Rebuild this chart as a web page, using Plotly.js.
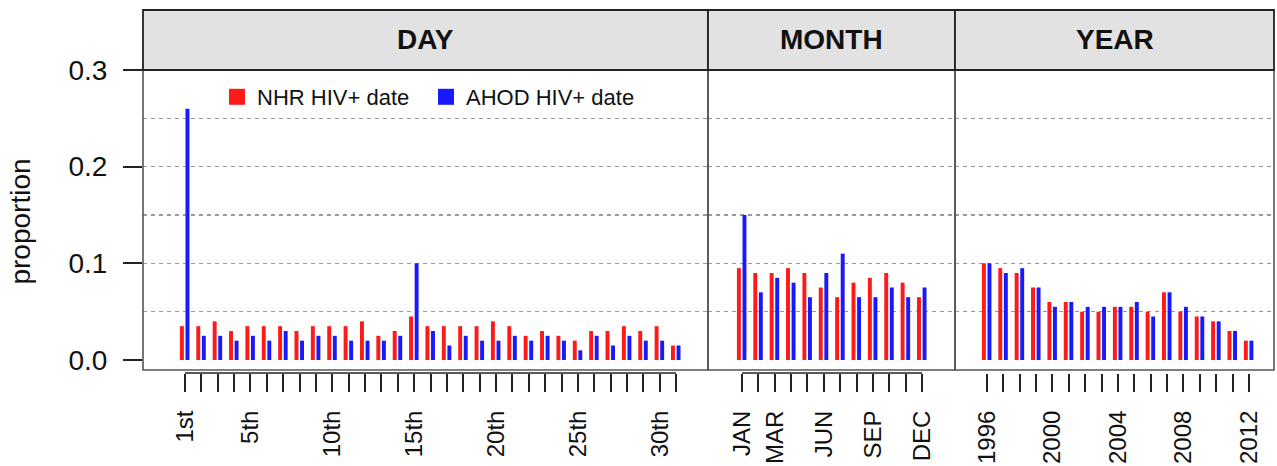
<!DOCTYPE html>
<html>
<head>
<meta charset="utf-8">
<script src="https://cdn.plot.ly/plotly-3.0.1.min.js"></script>
<style>
  html, body { margin: 0; padding: 0; background: #ffffff; }
  #chart { width: 1277px; height: 466px; }
</style>
</head>
<body>
<div id="chart"></div>
<script>
// ---------------- data ----------------
const dayLabels = ['1st','2nd','3rd','4th','5th','6th','7th','8th','9th','10th',
  '11th','12th','13th','14th','15th','16th','17th','18th','19th','20th',
  '21st','22nd','23rd','24th','25th','26th','27th','28th','29th','30th','31st'];
const dayShown = ['1st','5th','10th','15th','20th','25th','30th'];
const dayNHR  = [0.035,0.035,0.040,0.030,0.035,0.035,0.035,0.030,0.035,0.035,
  0.035,0.040,0.025,0.030,0.045,0.035,0.035,0.035,0.035,0.040,
  0.035,0.025,0.030,0.025,0.020,0.030,0.030,0.035,0.030,0.035,0.015];
const dayAHOD = [0.260,0.025,0.025,0.020,0.025,0.020,0.030,0.020,0.025,0.025,
  0.020,0.020,0.020,0.025,0.100,0.030,0.015,0.025,0.020,0.020,
  0.025,0.020,0.025,0.020,0.010,0.025,0.015,0.025,0.020,0.020,0.015];

const monthLabels = ['JAN','FEB','MAR','APR','MAY','JUN','JUL','AUG','SEP','OCT','NOV','DEC'];
const monthShown = ['JAN','MAR','JUN','SEP','DEC'];
const monthNHR  = [0.095,0.090,0.090,0.095,0.090,0.075,0.065,0.080,0.085,0.090,0.080,0.065];
const monthAHOD = [0.150,0.070,0.085,0.080,0.065,0.090,0.110,0.065,0.065,0.075,0.065,0.075];

const yearLabels = ['1996','1997','1998','1999','2000','2001','2002','2003','2004',
  '2005','2006','2007','2008','2009','2010','2011','2012'];
const yearShown = ['1996','2000','2004','2008','2012'];
const yearNHR  = [0.100,0.095,0.090,0.075,0.060,0.060,0.050,0.050,0.055,
  0.055,0.050,0.070,0.050,0.045,0.040,0.030,0.020];
const yearAHOD = [0.100,0.090,0.095,0.075,0.055,0.060,0.055,0.055,0.055,
  0.060,0.045,0.070,0.055,0.045,0.040,0.030,0.020];

const panelTitles = ['DAY','MONTH','YEAR'];
const seriesNames = ['NHR HIV+ date','AHOD HIV+ date'];
const yTickVals = [0, 0.1, 0.2, 0.3];
const yTickText = ['0.0','0.1','0.2','0.3'];

// ---------------- style ----------------
const FONT = 'Liberation Sans, Arial, Helvetica, sans-serif';
const RED = 'rgb(255,25,25)';
const BLUE = 'rgb(25,25,255)';
const BW = 0.24;
const RED_OFF = -0.31;
const BLUE_OFF = 0.03;

const W = 1277, H = 466;
const mL = 143, mR = 3, mT = 70, mB = 93;
const plotW = W - mL - mR;   // 1131
const plotH = H - mT - mB;   // 303
const px2x = p => (p - mL) / plotW;
const headerTop = 1 + 60 / plotH;

const domains = [[0, px2x(708)], [px2x(708), px2x(955)], [px2x(955), 1]];
const ranges = [[-2.566, 31.95], [-2.077, 13.01], [-1.955, 17.53]];
const yRange = [-0.01345, 0.3];
const boxBottom = -0.0103;

const panels = [
  {labels: dayLabels, shown: dayShown, a: dayNHR, b: dayAHOD},
  {labels: monthLabels, shown: monthShown, a: monthNHR, b: monthAHOD},
  {labels: yearLabels, shown: yearShown, a: yearNHR, b: yearAHOD}
];

const GRID = {gridcolor: '#9a9a9a', gridwidth: 1.4, griddash: '4px,4px'};

const traces = [];
const layout = {
  width: W, height: H,
  margin: {l: mL, r: mR, t: mT, b: mB, pad: 0},
  paper_bgcolor: '#ffffff',
  plot_bgcolor: 'rgba(0,0,0,0)',
  font: {family: FONT, color: '#111111'},
  barmode: 'overlay',
  showlegend: true,
  legend: {
    orientation: 'h', x: px2x(217), y: (373 - 97) / plotH,
    xanchor: 'left', yanchor: 'middle',
    font: {family: FONT, size: 22, color: '#111111'},
    bgcolor: 'rgba(0,0,0,0)', borderwidth: 0, itemwidth: 30,
    entrywidth: 164, entrywidthmode: 'pixels',
    traceorder: 'normal'
  },
  shapes: [],
  annotations: [],
  yaxis: Object.assign({
    domain: [0, 1], range: yRange, anchor: 'x',
    tickmode: 'array', tickvals: yTickVals, ticktext: yTickText,
    ticks: 'outside', ticklen: 19, tickwidth: 2, tickcolor: '#222222',
    tickfont: {family: FONT, size: 28, color: '#111111'},
    ticklabelstandoff: 10,
    showline: false,
    showgrid: true,
    minor: Object.assign({dtick: 0.05, tick0: 0, showgrid: true, ticks: ''}, GRID),
    zeroline: true, zerolinecolor: '#ffffff', zerolinewidth: 2,
    title: {text: 'proportion', font: {family: FONT, size: 28, color: '#111111'}, standoff: 29},
    automargin: false, fixedrange: true
  }, GRID)
};

panels.forEach((p, i) => {
  const xa = i === 0 ? 'x' : 'x' + (i + 1);
  const xaKey = i === 0 ? 'xaxis' : 'xaxis' + (i + 1);
  traces.push({
    type: 'bar', x: p.labels, y: p.a, xaxis: xa, yaxis: 'y',
    name: seriesNames[0], showlegend: false,
    width: BW, offset: RED_OFF,
    marker: {color: RED, line: {width: 0}}, hoverinfo: 'x+y+name'
  });
  traces.push({
    type: 'bar', x: p.labels, y: p.b, xaxis: xa, yaxis: 'y',
    name: seriesNames[1], showlegend: false,
    width: BW, offset: BLUE_OFF,
    marker: {color: BLUE, line: {width: 0}}, hoverinfo: 'x+y+name'
  });
  layout[xaKey] = {
    type: 'category', domain: domains[i], range: ranges[i], anchor: 'y',
    categoryorder: 'array', categoryarray: p.labels,
    tickmode: 'array', tickvals: p.labels,
    ticktext: p.labels.map(l => p.shown.includes(l) ? l : ''),
    ticks: 'outside', ticklen: 18, tickwidth: 2, tickcolor: '#222222',
    tickangle: -90, ticklabelstandoff: 9,
    tickfont: {family: FONT, size: 24, color: '#111111'},
    showline: false, showgrid: false, zeroline: false,
    automargin: false, fixedrange: true
  };
  // panel box
  layout.shapes.push({
    type: 'rect', xref: 'paper', yref: 'y',
    x0: domains[i][0], x1: domains[i][1], y0: boxBottom, y1: 0.3,
    line: {color: '#555555', width: 1.6}, fillcolor: 'rgba(0,0,0,0)', layer: 'above'
  });
  // header strip
  layout.shapes.push({
    type: 'rect', xref: 'paper', yref: 'paper',
    x0: domains[i][0], x1: domains[i][1], y0: 1, y1: headerTop,
    line: {color: '#222222', width: 1.8}, fillcolor: '#e2e2e2', layer: 'above'
  });
  // axis baseline spanning first to last tick
  layout.shapes.push({
    type: 'line', xref: xa, yref: 'paper',
    x0: p.labels[0], x1: p.labels[p.labels.length - 1], y0: 0, y1: 0,
    line: {color: '#222222', width: 1.6}, layer: 'above'
  });
  layout.annotations.push({
    xref: 'paper', yref: 'paper',
    x: (domains[i][0] + domains[i][1]) / 2, y: (1 + headerTop) / 2,
    xanchor: 'center', yanchor: 'middle', showarrow: false,
    text: panelTitles[i],
    font: {family: FONT, size: 28, color: '#111111', weight: 700}
  });
});

// legend keys (square swatches matching the bar colours)
[RED, BLUE].forEach((c, k) => {
  traces.push({
    type: 'scatter', mode: 'markers', x: [null], y: [null],
    xaxis: 'x', yaxis: 'y', name: seriesNames[k], showlegend: true,
    marker: {symbol: 'square', size: 17, color: c, line: {width: 0}},
    hoverinfo: 'skip'
  });
});

Plotly.newPlot('chart', traces, layout, {staticPlot: true, displayModeBar: false});
</script>
</body>
</html>
